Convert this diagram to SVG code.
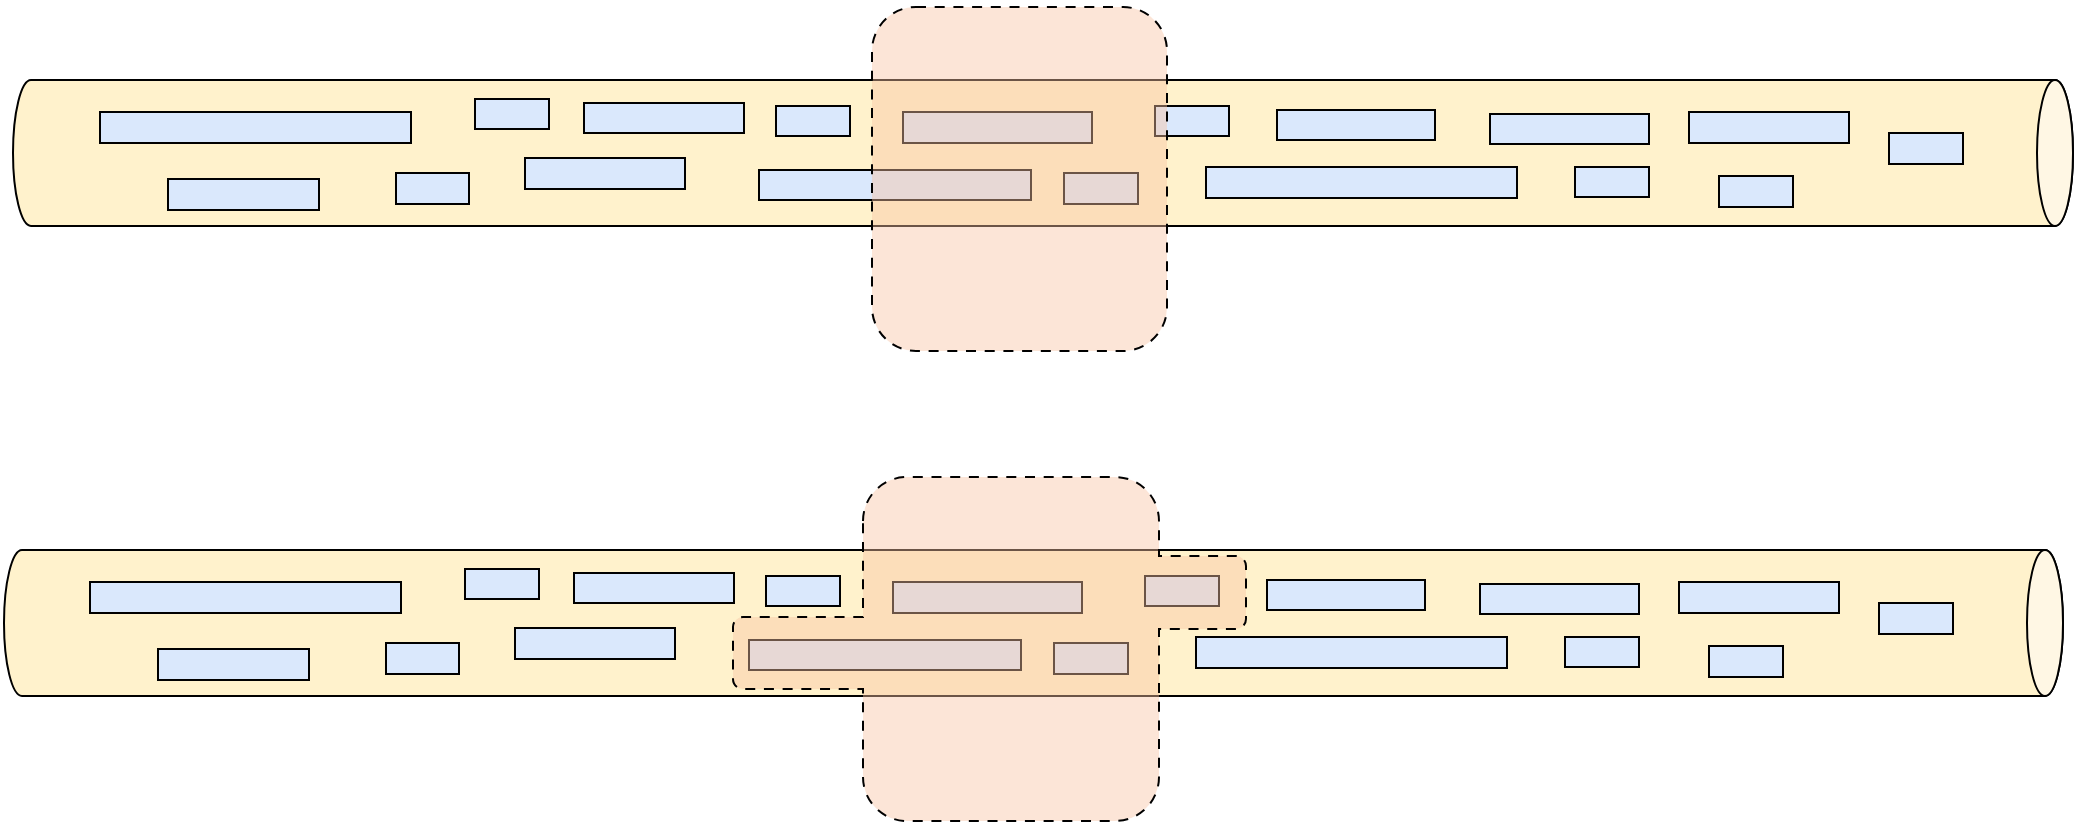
<svg xmlns="http://www.w3.org/2000/svg" width="2078" height="826" viewBox="0 0 2078 826">
<style>
.cyl{fill:#fff2cc;stroke:#000;stroke-width:2}
.lid{fill:#fff7e4;stroke:#000;stroke-width:2}
.box{fill:#dae8fc;stroke:#000;stroke-width:2}
.zone{fill:#f8c3a3;fill-opacity:0.43;stroke:#000;stroke-width:2;stroke-dasharray:10 8.7}
</style>
<rect width="2078" height="826" fill="#fff"/>
<!-- top -->
<g id="cylinder-top">
<path class="cyl" d="M31,80 H2055 A18 73 0 0 1 2055,226 H31 A18 73 0 0 1 31,80 Z"/>
<ellipse class="lid" cx="2055" cy="153" rx="18" ry="73"/>
</g>
<g id="top-boxes">
<g id="t1"><rect class="box" x="100" y="112" width="311" height="31"/></g>
<g id="t2"><rect class="box" x="475" y="99" width="74" height="30"/></g>
<g id="t3"><rect class="box" x="584" y="103" width="160" height="30"/></g>
<g id="t4"><rect class="box" x="168" y="179" width="151" height="31"/></g>
<g id="t5"><rect class="box" x="396" y="173" width="73" height="31"/></g>
<g id="t6"><rect class="box" x="525" y="158" width="160" height="31"/></g>
<g id="t7"><rect class="box" x="776" y="106" width="74" height="30"/></g>
<g id="t8"><rect class="box" x="903" y="112" width="189" height="31"/></g>
<g id="t9"><rect class="box" x="759" y="170" width="272" height="30"/></g>
<g id="t10"><rect class="box" x="1064" y="173" width="74" height="31"/></g>
<g id="t11"><rect class="box" x="1155" y="106" width="74" height="30"/></g>
<g id="t12"><rect class="box" x="1277" y="110" width="158" height="30"/></g>
<g id="t13"><rect class="box" x="1490" y="114" width="159" height="30"/></g>
<g id="t14"><rect class="box" x="1689" y="112" width="160" height="31"/></g>
<g id="t15"><rect class="box" x="1889" y="133" width="74" height="31"/></g>
<g id="t16"><rect class="box" x="1206" y="167" width="311" height="31"/></g>
<g id="t17"><rect class="box" x="1575" y="167" width="74" height="30"/></g>
<g id="t18"><rect class="box" x="1719" y="176" width="74" height="31"/></g>
</g>
<g id="zone-top"><rect class="zone" x="872" y="7" width="295" height="344" rx="44" ry="44"/></g>
<!-- bottom -->
<g id="cylinder-bottom">
<path class="cyl" d="M22,550 H2045 A18 73 0 0 1 2045,696 H22 A18 73 0 0 1 22,550 Z"/>
<ellipse class="lid" cx="2045" cy="623" rx="18" ry="73"/>
</g>
<g id="bottom-boxes" transform="translate(-10,470)">
<g id="b1"><rect class="box" x="100" y="112" width="311" height="31"/></g>
<g id="b2"><rect class="box" x="475" y="99" width="74" height="30"/></g>
<g id="b3"><rect class="box" x="584" y="103" width="160" height="30"/></g>
<g id="b4"><rect class="box" x="168" y="179" width="151" height="31"/></g>
<g id="b5"><rect class="box" x="396" y="173" width="73" height="31"/></g>
<g id="b6"><rect class="box" x="525" y="158" width="160" height="31"/></g>
<g id="b7"><rect class="box" x="776" y="106" width="74" height="30"/></g>
<g id="b8"><rect class="box" x="903" y="112" width="189" height="31"/></g>
<g id="b9"><rect class="box" x="759" y="170" width="272" height="30"/></g>
<g id="b10"><rect class="box" x="1064" y="173" width="74" height="31"/></g>
<g id="b11"><rect class="box" x="1155" y="106" width="74" height="30"/></g>
<g id="b12"><rect class="box" x="1277" y="110" width="158" height="30"/></g>
<g id="b13"><rect class="box" x="1490" y="114" width="159" height="30"/></g>
<g id="b14"><rect class="box" x="1689" y="112" width="160" height="31"/></g>
<g id="b15"><rect class="box" x="1889" y="133" width="74" height="31"/></g>
<g id="b16"><rect class="box" x="1206" y="167" width="311" height="31"/></g>
<g id="b17"><rect class="box" x="1575" y="167" width="74" height="30"/></g>
<g id="b18"><rect class="box" x="1719" y="176" width="74" height="31"/></g>
</g>
<g id="zone-bottom"><path class="zone" d="M863,521 A44 44 0 0 1 907,477 H1115 A44 44 0 0 1 1159,521 V556 H1236 A10 10 0 0 1 1246,566 V619 A10 10 0 0 1 1236,629 H1159 V777 A44 44 0 0 1 1115,821 H907 A44 44 0 0 1 863,777 V689 H743 A10 10 0 0 1 733,679 V627 A10 10 0 0 1 743,617 H863 Z"/></g>
<g id="connectors"/>
</svg>
